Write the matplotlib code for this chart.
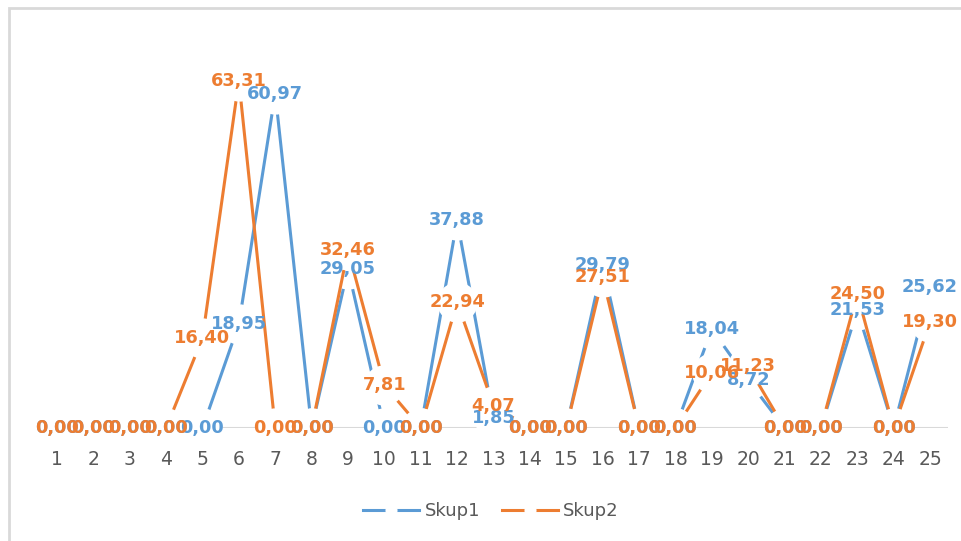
import matplotlib.pyplot as plt
from matplotlib.patches import Rectangle

categories = [str(i) for i in range(1, 26)]
skup1 = [0, 0, 0, 0, 0, 18.95, 60.97, 0, 29.05, 0, 0, 37.88, 1.85, 0, 0,
         29.79, 0, 0, 18.04, 8.72, 0, 0, 21.53, 0, 25.62]
skup2 = [0, 0, 0, 0, 16.40, 63.31, 0, 0, 32.46, 7.81, 0, 22.94, 4.07, 0, 0,
         27.51, 0, 0, 10.06, 11.23, 0, 0, 24.50, 0, 19.30]
series_names = ["Skup1", "Skup2"]
colors = ["#5B9BD5", "#ED7D31"]

W, H = 961, 541
fig = plt.figure(figsize=(W / 100, H / 100), dpi=100)
fig.patch.set_facecolor("white")

# chart border (only top and left edges visible in the crop)
fig.add_artist(Rectangle((9 / W, -0.1), 1.2, 1.1 - 8 / H, transform=fig.transFigure,
                         fill=False, edgecolor="#D9D9D9", linewidth=2))

ax = fig.add_axes([38.8 / W, 1 - 428 / H, 909.4 / W, 384 / H])
x = list(range(1, 26))

# zero line under everything
ax.axhline(0, color="#D9D9D9", linewidth=1.5, zorder=1)

handles = []
for vals, name, c in zip([skup1, skup2], series_names, colors):
    # white markers hide the line close to each point, like the Excel chart
    ln, = ax.plot(x, vals, color=c, linewidth=2.2, marker="o", markersize=29,
                  markerfacecolor="white", markeredgewidth=0, label=name,
                  zorder=2, clip_on=False)
    handles.append(ln)

for vals, c in zip([skup1, skup2], colors):
    for xi, v in zip(x, vals):
        ax.text(xi, v, f"{v:.2f}".replace(".", ","), ha="center", va="center",
                color=c, fontsize=12.8, fontweight="bold", zorder=5)

ax.set_xlim(0.5, 25.5)
ax.set_ylim(0, 70)
ax.set_xticks(x)
ax.set_xticklabels(categories, fontsize=13.5, color="#595959")
ax.tick_params(axis="x", length=0, pad=16)
ax.set_yticks([])
for s in ax.spines.values():
    s.set_visible(False)
ax.patch.set_alpha(0)

leg = fig.legend(handles=handles, loc="center", bbox_to_anchor=(491 / W, 1 - 511 / H),
                 ncol=2, frameon=False, fontsize=13, markerscale=0.3,
                 handlelength=3.1, handletextpad=0.3, columnspacing=1.2)
for t in leg.get_texts():
    t.set_color("#595959")

fig.savefig("out.png", dpi=100)
